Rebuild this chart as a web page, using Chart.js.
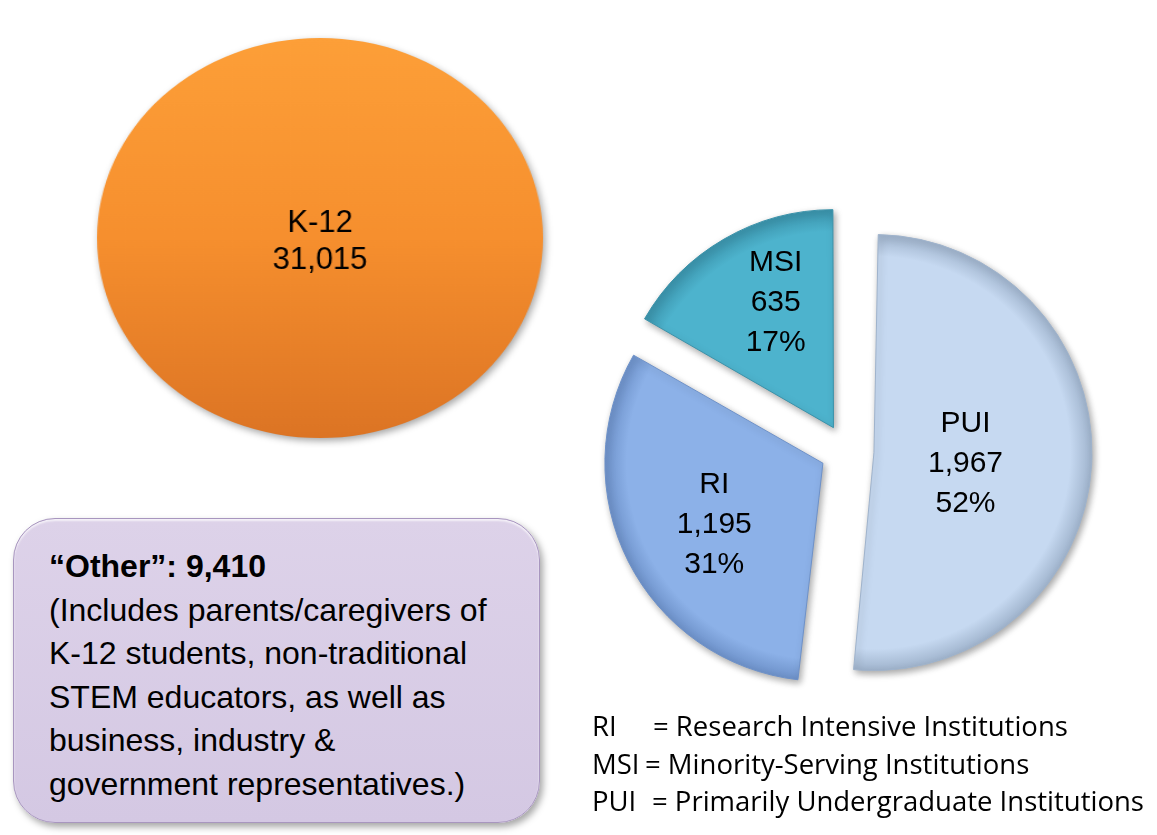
<!DOCTYPE html>
<html>
<head>
<meta charset="utf-8">
<script src="https://cdn.jsdelivr.net/npm/chart.js@4.4.1/dist/chart.umd.min.js"></script>
<style>
html, body { margin: 0; padding: 0; background: #fff; }
body { width: 1157px; height: 835px; position: relative; overflow: hidden; font-family: "Liberation Sans", Arial, sans-serif; }
#k12Wrap { position: absolute; left: 110px; top: 28px; width: 420px; height: 420px; transform: scaleX(1.115); transform-origin: 50% 50%; }
#instWrap { position: absolute; left: 567px; top: 171px; width: 560px; height: 560px; }
.otherBox {
    position: absolute; left: 13px; top: 518px; width: 527px; height: 305px;
    box-sizing: border-box; border-radius: 42px;
    background: linear-gradient(#ddd2e9, #d4c8e3);
    border: 1.5px solid #a896bf;
    box-shadow: inset 0 2px 2px rgba(255,255,255,0.7), 3px 4px 7px rgba(0,0,0,0.35);
}
.otherText { position: absolute; left: 49px; top: 545px; font-size: 32px; line-height: 43.5px; color: #000; white-space: nowrap; }
.otherText b { font-weight: bold; }
.legend { position: absolute; left: 592px; top: 707px; font-family: "Open Sans", sans-serif; font-size: 27.5px; line-height: 37.5px; color: #000; }
.legend div { position: relative; height: 37.5px; white-space: nowrap; }
.legend span.eq { position: absolute; top: 0; }
</style>
</head>
<body>
<div id="k12Wrap"><canvas id="k12Chart" width="420" height="420"></canvas></div>
<div id="instWrap"><canvas id="instChart" width="560" height="560"></canvas></div>
<div class="otherBox"></div>
<div class="otherText" id="otherText"></div>
<div class="legend" id="legend"></div>

<script>
// ---- data ----
const k12Labels = ['K-12'];
const k12Values = [31015];

const instLabels = ['PUI', 'RI', 'MSI'];
const instValues = [1967, 1195, 635];

const otherLabel = '\u201cOther\u201d';
const otherValue = 9410;
const otherNote = [
    '(Includes parents/caregivers of',
    'K-12 students, non-traditional',
    'STEM educators, as well as',
    'business, industry &',
    'government representatives.)'
];

const legendAbbr = ['RI', 'MSI', 'PUI'];
const legendNames = ['Research Intensive Institutions', 'Minority-Serving Institutions', 'Primarily Undergraduate Institutions'];

const fmt = n => n.toLocaleString('en-US');

// ---- text blocks ----
document.getElementById('otherText').innerHTML =
    '<b>' + otherLabel + ': ' + fmt(otherValue) + '</b><br>' + otherNote.map(s => s.replace('&', '&amp;')).join('<br>');

const eqLeft = [61, 53, 60]; // where the "=" sits after each abbreviation
document.getElementById('legend').innerHTML = legendAbbr.map((a, i) =>
    '<div>' + a + '<span class="eq" style="left:' + eqLeft[i] + 'px">= ' + legendNames[i] + '</span></div>'
).join('');

// shadow + equal radius for exploded slices
const arcShadow = {
    id: 'arcShadow',
    beforeDatasetsDraw(chart) {
        const meta = chart.getDatasetMeta(0);
        const R = meta.controller.outerRadius;
        meta.data.forEach(arc => {
            const shift = (arc.options.offset || 0) / 4;
            const fix = 1 - Math.sin(Math.min(Math.PI, arc.circumference));
            arc.outerRadius = R - shift * fix;
        });
        const ctx = chart.ctx;
        ctx.save();
        ctx.shadowColor = 'rgba(0,0,0,0.35)';
        ctx.shadowBlur = 7;
        ctx.shadowOffsetX = 2;
        ctx.shadowOffsetY = 3;
    },
    afterDatasetsDraw(chart) {
        chart.ctx.restore();
    }
};

// ---- K-12 ellipse ----
new Chart(document.getElementById('k12Chart'), {
    type: 'pie',
    data: {
        labels: k12Labels,
        datasets: [{
            data: k12Values,
            backgroundColor: function(context) {
                const area = context.chart.chartArea;
                if (!area) return '#f7922f';
                const cy = (area.top + area.bottom) / 2;
                const g = context.chart.ctx.createLinearGradient(0, cy - 200, 0, cy + 200);
                g.addColorStop(0, '#fd9f38');
                g.addColorStop(0.5, '#f68f2e');
                g.addColorStop(1, '#dc7424');
                return g;
            },
            borderWidth: 0
        }]
    },
    options: {
        responsive: false,
        animation: false,
        events: [],
        radius: 200,
        plugins: { legend: { display: false }, tooltip: { enabled: false } }
    },
    plugins: [arcShadow, {
        id: 'k12Label',
        afterDatasetsDraw(chart) {
            const arc = chart.getDatasetMeta(0).data[0];
            const ctx = chart.ctx;
            ctx.save();
            ctx.translate(arc.x, arc.y);
            ctx.scale(1 / 1.115, 1); // undo the horizontal stretch for text
            ctx.font = '31px "Liberation Sans", Arial, sans-serif';
            ctx.fillStyle = '#000';
            ctx.textAlign = 'center';
            ctx.textBaseline = 'middle';
            ctx.fillText(k12Labels[0], 0, -15);
            ctx.fillText(fmt(k12Values[0]), 0, 22);
            ctx.restore();
        }
    }]
});

// ---- institutions pie ----
const sliceFill = ['#c6d9f1', '#8cb1e8', '#4db3cd'];
const sliceRim = ['#9fb3cc', '#6d91c9', '#3a92aa'];
const instTotal = instValues.reduce((a, b) => a + b, 0);

new Chart(document.getElementById('instChart'), {
    type: 'pie',
    data: {
        labels: instLabels,
        datasets: [{
            data: instValues,
            backgroundColor: function(context) {
                const i = context.dataIndex;
                const area = context.chart.chartArea;
                if (!area) return sliceFill[i];
                const cx = (area.left + area.right) / 2, cy = (area.top + area.bottom) / 2;
                const g = context.chart.ctx.createRadialGradient(cx, cy, 0, cx, cy, 218);
                g.addColorStop(0, sliceFill[i]);
                g.addColorStop(0.9, sliceFill[i]);
                g.addColorStop(1, sliceRim[i]);
                return g;
            },
            borderColor: sliceRim,
            borderWidth: 1,
            offset: 108
        }]
    },
    options: {
        responsive: false,
        animation: false,
        events: [],
        radius: 218,
        plugins: {
            legend: { display: false },
            tooltip: { enabled: false },
            sliceLabels: {
                labelRadius: [0.48, 0.58, 0.63],
                nudge: [[0, 6], [3, 5], [10, -8]]
            }
        }
    },
    plugins: [arcShadow, {
        id: 'sliceLabels',
        afterDatasetsDraw(chart, args, opts) {
            const ctx = chart.ctx;
            chart.getDatasetMeta(0).data.forEach((arc, i) => {
                const mid = (arc.startAngle + arc.endAngle) / 2;
                const r = (arc.options.offset || 0) / 4 + arc.outerRadius * opts.labelRadius[i];
                const x = arc.x + Math.cos(mid) * r + opts.nudge[i][0];
                const y = arc.y + Math.sin(mid) * r + opts.nudge[i][1];
                const lines = [instLabels[i], fmt(instValues[i]), Math.round(instValues[i] / instTotal * 100) + '%'];
                ctx.save();
                ctx.font = '30px "Liberation Sans", Arial, sans-serif';
                ctx.fillStyle = '#000';
                ctx.textAlign = 'center';
                ctx.textBaseline = 'middle';
                lines.forEach((t, j) => ctx.fillText(t, x, y + (j - 1) * 40));
                ctx.restore();
            });
        }
    }]
});
</script>
</body>
</html>
